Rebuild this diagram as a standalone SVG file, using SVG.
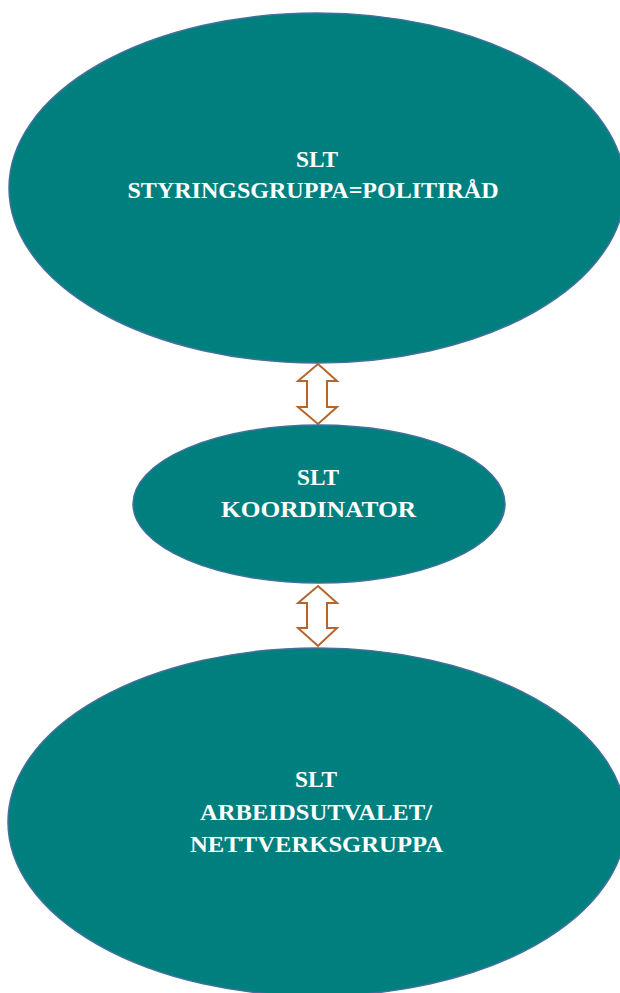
<svg xmlns="http://www.w3.org/2000/svg" width="620" height="993" viewBox="0 0 620 993">
<style>
.node{fill:#007F7F;stroke:#41719C;stroke-width:1.5}
.arr{fill:#FFFFFF;stroke:#B5652A;stroke-width:2;stroke-linejoin:miter}
text{font-family:"Liberation Serif","Times New Roman",serif;font-weight:bold;font-size:23px;fill:#FFFFFF;text-anchor:middle}
</style>
<rect width="620" height="993" fill="#FFFFFF"/>
<g id="connectors">
<polygon class="arr" points="318,364 337,381 327,381 327,407 337,407 318,424 298,407 307,407 307,381 298,381"/>
<polygon class="arr" points="318,586 337,603 327,603 327,628 337,628 318,646 298,628 307,628 307,603 298,603"/>
</g>
<g id="node-styringsgruppa">
<ellipse class="node" cx="317" cy="188" rx="308" ry="175"/>
<text x="317" y="167" textLength="42" lengthAdjust="spacingAndGlyphs">SLT</text>
<text x="313" y="198" textLength="371" lengthAdjust="spacingAndGlyphs">STYRINGSGRUPPA=POLITIRÅD</text>
</g>
<g id="node-koordinator">
<ellipse class="node" cx="319" cy="504" rx="186" ry="79"/>
<text x="318" y="485" textLength="42" lengthAdjust="spacingAndGlyphs">SLT</text>
<text x="318.5" y="517" textLength="195" lengthAdjust="spacingAndGlyphs">KOORDINATOR</text>
</g>
<g id="node-arbeidsutvalet">
<ellipse class="node" cx="317" cy="822" rx="309" ry="174"/>
<text x="316" y="787" textLength="42" lengthAdjust="spacingAndGlyphs">SLT</text>
<text x="316" y="820" textLength="232" lengthAdjust="spacingAndGlyphs">ARBEIDSUTVALET/</text>
<text x="316.5" y="852" textLength="253" lengthAdjust="spacingAndGlyphs">NETTVERKSGRUPPA</text>
</g>
</svg>
